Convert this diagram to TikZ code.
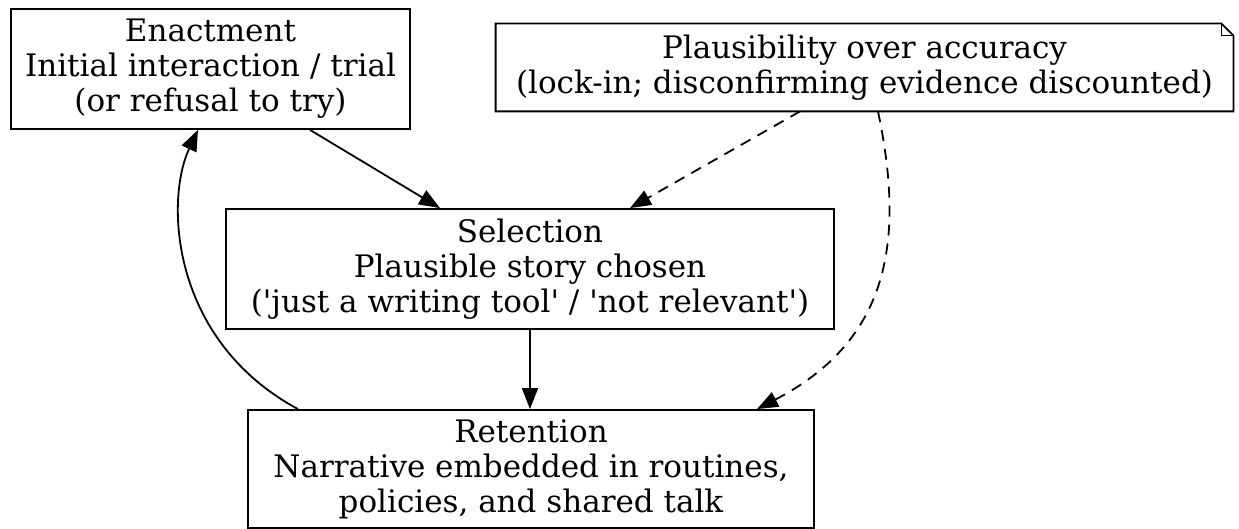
\documentclass[tikz,border=0pt]{standalone}
\usepackage{fontspec}
\setmainfont{DejaVu Serif}[Ligatures=TeXOff]
\usetikzlibrary{arrows.meta,calc}
\begin{document}
\begin{tikzpicture}[x=0.5pt,y=-0.5pt,
  box/.style={draw, line width=0.9pt, inner sep=0pt, align=center,
    font=\fontsize{15.5pt}{17.5pt}\selectfont},
  notebox/.style={inner sep=0pt, align=center,
    font=\fontsize{15.5pt}{17.5pt}\selectfont},
  edge/.style={line width=0.9pt, -{Triangle[length=10.5pt,width=8pt]}},
  dashedge/.style={edge, dash pattern=on 5.5pt off 4pt}]
\useasboundingbox (0,0) rectangle (1239,529);
\node[box, minimum width=199.5pt, minimum height=60pt] (E) at (210.5,69)
  {Enactment\\Initial interaction / trial\\(or refusal to try)};
\node[notebox, minimum width=368.5pt, minimum height=43.5pt] (N) at (864.5,67.5)
  {Plausibility over accuracy\\(lock-in; disconfirming evidence discounted)};
\draw[line width=0.9pt] (N.north west) -- ($(N.north east)+(-12,0)$) -- ($(N.north east)+(0,12)$)
  -- (N.south east) -- (N.south west) -- cycle;
\draw[line width=0.9pt] ($(N.north east)+(-12,0)$) -- ($(N.north east)+(-12,12)$) -- ($(N.north east)+(0,12)$);
\node[box, minimum width=304pt, minimum height=60pt] (S) at (530,269)
  {Selection\\Plausible story chosen\\('just a writing tool' / 'not relevant')};
\node[box, minimum width=283pt, minimum height=59pt] (R) at (531,469)
  {Retention\\Narrative embedded in routines,\\policies, and shared talk};
\draw[edge] ($(E.south)+(99.5,0)$) -- ($(S.north)+(-90,0)$);
\draw[dashedge] ($(N.south)+(-64.5,0)$) -- ($(S.north)+(100,0)$);
\draw[dashedge] ($(N.south)+(13.5,0)$) .. controls (905,240) and (890,340) .. ($(R.north)+(226,0)$);
\draw[edge] (S.south) -- (S.south |- R.north);
\draw[edge] ($(R.north)+(-233,0)$) .. controls (170,340) and (165,200) .. ($(E.south)+(-12.5,0)$);
\end{tikzpicture}
\end{document}
